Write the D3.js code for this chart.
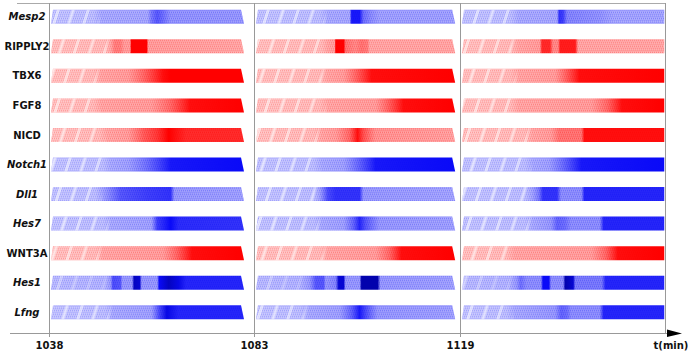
<!DOCTYPE html>
<html>
<head>
<meta charset="utf-8">
<script src="https://cdn.jsdelivr.net/npm/d3@7"></script>
<style>
    body { margin: 0; background: #fff; }
    svg { display: block; }
    text { font-family: "DejaVu Sans", Verdana, sans-serif; font-weight: bold; fill: #111; }
</style>
</head>
<body>
<svg id="chart" width="688" height="351"></svg>
<script>
const genes = ["Mesp2", "RIPPLY2", "TBX6", "FGF8", "NICD", "Notch1", "Dll1", "Hes7", "WNT3A", "Hes1", "Lfng"];
const italicGenes = ["Mesp2", "Notch1", "Dll1", "Hes7", "Hes1", "Lfng"];
const redGenes = ["RIPPLY2", "TBX6", "FGF8", "NICD", "WNT3A"];
const timeLabels = ["1038", "1083", "1119"];

// expression along each bar as [position %, level], one list per time panel
const mesp2 = [
    [[0, .15], [22, .18], [26, .3], [50, .32], [52, .55], [55, .7], [58, .6], [62, .42], [100, .4]],
    [[0, .15], [32, .18], [36, .3], [47, .32], [48, .95], [52, .95], [54, .6], [58, .45], [62, .35], [100, .35]],
    [[0, .15], [24, .18], [28, .3], [47, .32], [48, .85], [50, .8], [52, .5], [68, .42], [75, .33], [100, .33]]
];
const ripply2 = [
    [[0, .15], [28, .18], [31, .3], [33, .5], [36, .5], [38, .35], [41, .35], [41.5, 1], [49.5, 1], [50.5, .35], [100, .3]],
    [[0, .15], [33, .18], [36, .3], [39.5, .35], [40, 1], [44, 1], [45, .55], [50, .45], [53, .55], [56, .5], [57, .3], [100, .3]],
    [[0, .15], [24, .18], [28, .3], [38.5, .35], [39.5, .85], [43.5, .85], [45, .45], [47.5, .45], [48.5, .9], [56, .9], [57.5, .3], [100, .3]]
];
const tbx6 = [
    [[0, .15], [22, .18], [26, .3], [40, .35], [48, .6], [58, .95], [62, 1], [100, 1]],
    [[0, .15], [32, .18], [36, .3], [44, .35], [50, .6], [58, .95], [100, 1]],
    [[0, .15], [24, .18], [28, .3], [46, .35], [52, .65], [58, .95], [100, 1]]
];
const fgf8 = [
    [[0, .15], [22, .18], [26, .3], [52, .35], [62, .6], [72, .95], [100, 1]],
    [[0, .15], [32, .18], [36, .3], [60, .35], [66, .6], [74, .95], [100, 1]],
    [[0, .15], [24, .18], [28, .3], [64, .35], [72, .6], [79, .95], [100, 1]]
];
const nicd = [
    [[0, .15], [25, .18], [29, .3], [40, .35], [48, .65], [55, .8], [61, 1], [64, .95], [70, .85], [100, .85]],
    [[0, .15], [29, .18], [33, .3], [40, .35], [47, .6], [51, .95], [54, .7], [60, .4], [100, .33]],
    [[0, .15], [31, .18], [35, .3], [44, .35], [48, .55], [59, .55], [60.5, .95], [100, .95]]
];
const notch1 = [
    [[0, .15], [27, .18], [31, .3], [40, .35], [50, .6], [62, .95], [100, 1]],
    [[0, .15], [29, .18], [33, .3], [44, .35], [52, .65], [60, .95], [100, 1]],
    [[0, .15], [31, .18], [35, .3], [43, .35], [51, .65], [59, .95], [100, 1]]
];
const dll1 = [
    [[0, .15], [23, .18], [27, .35], [32, .55], [36, .7], [50, .8], [62, .85], [64, .4], [100, .35]],
    [[0, .15], [29, .18], [32, .35], [36, .75], [40, .85], [52, .85], [54, .4], [100, .33]],
    [[0, .15], [31, .18], [35, .35], [38, .55], [40, .85], [47, .85], [49, .45], [59, .45], [60.5, .9], [100, .9]]
];
const hes7 = [
    [[0, .15], [27, .18], [31, .3], [52, .35], [55, .8], [62, 1], [66, .88], [100, .85]],
    [[0, .15], [29, .18], [33, .3], [44, .35], [49, .65], [52, .9], [55, .7], [62, .4], [100, .35]],
    [[0, .15], [31, .18], [35, .3], [44, .4], [47, .65], [51, .6], [54, .45], [68, .45], [70, .9], [100, .9]]
];
const wnt3a = [
    [[0, .15], [23, .18], [27, .3], [58, .35], [65, .6], [73, .95], [100, 1]],
    [[0, .15], [32, .18], [36, .3], [60, .35], [67, .6], [73, .95], [100, 1]],
    [[0, .15], [22, .18], [26, .3], [64, .35], [71, .6], [77, .95], [100, 1]]
];
const hes1 = [
    [[0, .2], [28, .25], [31, .4], [32, .75], [36, .7], [37, .4], [42, .4], [43, 1.15], [46, 1.1], [47, .4], [55, .4], [56, 1], [61, 1.15], [66, 1.05], [70, .9], [100, .9]],
    [[0, .2], [22, .25], [27, .4], [30, .7], [34, .7], [35, .4], [40, .5], [41.5, 1.1], [44, 1.1], [45, .4], [52, .4], [53, 1.2], [61, 1.2], [62.5, .4], [100, .35]],
    [[0, .2], [23, .25], [27, .4], [29, .6], [32, .45], [39, .45], [40, 1], [43, 1], [44, .45], [50, .45], [51, 1.2], [55, 1.1], [56, .55], [69, .55], [71, .9], [100, .9]]
];
const lfng = [
    [[0, .15], [28, .18], [32, .3], [52, .35], [56, .75], [60, 1.05], [66, .9], [100, .9]],
    [[0, .15], [22, .18], [27, .3], [42, .35], [48, .65], [52, .95], [55, .75], [61, .4], [100, .35]],
    [[0, .15], [22, .18], [26, .3], [46, .4], [49, .65], [52, .6], [54, .45], [68, .45], [70, .9], [100, .9]]
];
const profiles = [mesp2, ripply2, tbx6, fgf8, nicd, notch1, dll1, hes7, wnt3a, hes1, lfng];

const svg = d3.select("#chart");
const defs = svg.append("defs");

const x = d3.scaleBand().domain(timeLabels).range([49, 665]);
const y = d3.scaleBand().domain(genes).range([2, 327]);
const barLen = [0.94, 0.97, 0.985];
const barH = 14, frameTop = 3, axisY = 333;

function colorAt(gene, v) {
    let red = redGenes.includes(gene);
    let base = red ? "#ff0000" : "#0a0af8";
    let dark = red ? "#b00000" : "#00009a";
    if (v <= 1) return d3.interpolateRgb("#ffffff", base)(0.3 + 0.7 * v);
    return d3.interpolateRgb(base, dark)(Math.min(1, (v - 1) / 0.25));
}
let gray = g => d3.rgb(255 * g, 255 * g, 255 * g).toString();

// fine dotted texture
let dots = defs.append("pattern").attr("id", "dots")
    .attr("patternUnits", "userSpaceOnUse")
    .attr("width", 2).attr("height", 2)
    .attr("patternTransform", "skewX(-18)");
dots.append("rect").attr("x", 0).attr("y", 0).attr("width", 1).attr("height", 2)
    .attr("fill", "#fff").attr("fill-opacity", 0.6);
dots.append("rect").attr("x", 1).attr("y", 1).attr("width", 1).attr("height", 1)
    .attr("fill", "#fff").attr("fill-opacity", 0.35);

// lighter gaps between stripe groups
let gaps = defs.append("pattern").attr("id", "gaps")
    .attr("patternUnits", "userSpaceOnUse")
    .attr("width", 15).attr("height", 20)
    .attr("patternTransform", "skewX(-18)");
gaps.append("rect").attr("x", 0).attr("y", 0).attr("width", 3).attr("height", 20)
    .attr("fill", "#fff").attr("fill-opacity", 0.55);

function addGradient(id, stops, fn) {
    defs.append("linearGradient").attr("id", id)
        .attr("x1", 0).attr("x2", 1).attr("y1", 0).attr("y2", 0)
        .selectAll("stop")
        .data(stops)
        .join("stop")
        .attr("offset", d => d[0] + "%")
        .attr("stop-color", d => fn(d[1]));
}

// frame and grid lines
svg.append("line")
    .attr("x1", 17).attr("x2", 665).attr("y1", frameTop + 0.5).attr("y2", frameTop + 0.5)
    .attr("stroke", "#aaa");
svg.append("line")
    .attr("x1", 665.5).attr("x2", 665.5).attr("y1", frameTop).attr("y2", axisY)
    .attr("stroke", "#999");
svg.selectAll("line.grid")
    .data(timeLabels)
    .join("line")
    .attr("class", "grid")
    .attr("x1", d => Math.round(x(d)) + 0.5)
    .attr("x2", d => Math.round(x(d)) + 0.5)
    .attr("y1", frameTop)
    .attr("y2", axisY + 4)
    .attr("stroke", "#999");
svg.append("line")
    .attr("x1", 10).attr("x2", 668).attr("y1", axisY + 0.5).attr("y2", axisY + 0.5)
    .attr("stroke", "#999");
svg.append("path")
    .attr("d", `M667,${axisY - 3.5}L682,${axisY + 0.5}L667,${axisY + 4}Z`)
    .attr("fill", "#000");

// bars
let bars = [];
genes.forEach((g, gi) => {
    timeLabels.forEach((t, ti) => {
        bars.push({gene: g, gi: gi, ti: ti, stops: profiles[gi][ti]});
    });
});

bars.forEach(b => {
    let id = `b${b.gi}_${b.ti}`;
    addGradient("c" + id, b.stops, v => colorAt(b.gene, v));
    addGradient("d" + id, b.stops, v => gray(Math.max(0, Math.min(1, 1 - v))));
    addGradient("g" + id, b.stops, v => gray(Math.max(0, Math.min(1, (0.28 - v) / 0.12))));
});

const cells = svg.selectAll("g.bar")
    .data(bars)
    .join("g")
    .attr("class", "bar");

function barPath(b) {
    let x0 = Math.round(x(timeLabels[b.ti])) + 2;
    let x1 = x0 + barLen[b.ti] * x.bandwidth();
    let yt = y(b.gene) + (y.bandwidth() - barH) / 2, yb = yt + barH;
    let flat = b.ti === timeLabels.length - 1;
    b.box = [x0, yt, x1, yb];
    return `M${x0},${yb}L${x0 + 2},${yt}L${flat ? x1 : x1 - 3},${yt}L${x1},${yb}Z`;
}

cells.each(function (b) {
    let g = d3.select(this);
    let id = `b${b.gi}_${b.ti}`;
    let d = barPath(b);
    let [x0, yt, x1] = b.box;
    ["d", "g"].forEach(k => {
        defs.append("mask").attr("id", "m" + k + id)
            .attr("maskUnits", "userSpaceOnUse")
            .attr("x", x0 - 2).attr("y", yt - 2).attr("width", x1 - x0 + 4).attr("height", barH + 4)
            .append("rect")
            .attr("x", x0).attr("y", yt - 1).attr("width", x1 - x0).attr("height", barH + 2)
            .attr("fill", `url(#${k}${id})`);
    });
    g.append("path").attr("d", d).attr("fill", `url(#c${id})`);
    g.append("path").attr("d", d).attr("fill", "url(#dots)").attr("mask", `url(#md${id})`);
    g.append("path").attr("d", d).attr("fill", "url(#gaps)").attr("mask", `url(#mg${id})`);
});

// gene labels
svg.selectAll("text.gene")
    .data(genes)
    .join("text")
    .attr("class", "gene")
    .attr("x", 27)
    .attr("y", d => y(d) + y.bandwidth() / 2 + 3.6)
    .attr("text-anchor", "middle")
    .style("font-size", "10px")
    .style("font-style", d => italicGenes.includes(d) ? "italic" : "normal")
    .text(d => d);

// time labels
svg.selectAll("text.time")
    .data(timeLabels)
    .join("text")
    .attr("class", "time")
    .attr("x", d => Math.round(x(d)) + 0.5)
    .attr("y", axisY + 15.5)
    .attr("text-anchor", "middle")
    .style("font-size", "10px")
    .text(d => d);
svg.append("text")
    .attr("x", 671)
    .attr("y", axisY + 15.5)
    .attr("text-anchor", "middle")
    .style("font-size", "10px")
    .text("t(min)");
</script>
</body>
</html>
